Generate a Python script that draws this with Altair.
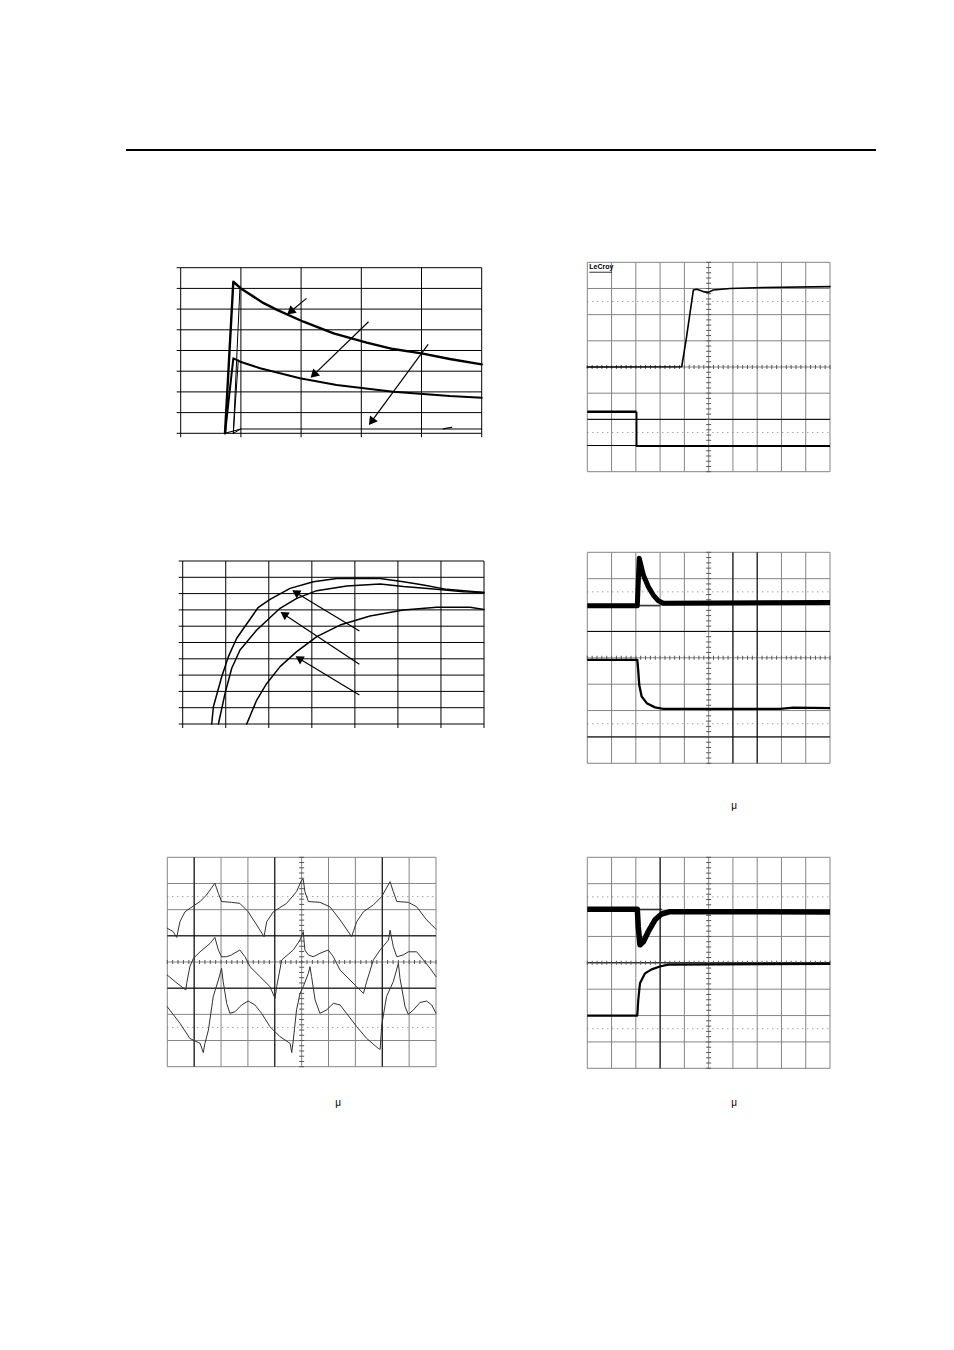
import math
import altair as alt
import pandas as pd

# ================= DATA (in grid-division units) =================
# Panel 1 (top-left line chart): x 0..5, y 0..8
P1_A_X = [0.736, 0.874, 1.0, 1.37, 1.6, 2.04, 2.54, 3.09, 3.53, 4.0, 4.47, 5.0]
P1_A_Y = [0.0, 7.32, 7.0, 6.3, 5.96, 5.39, 4.83, 4.38, 4.07, 3.86, 3.59, 3.33]
P1_A2_X = [0.874, 0.985]
P1_A2_Y = [0.0, 7.1]
P1_B_X = [0.736, 0.874, 0.99, 1.32, 1.98, 2.59, 3.53, 4.47, 5.0]
P1_B_Y = [0.0, 3.62, 3.46, 3.14, 2.66, 2.33, 2.01, 1.80, 1.72]
P1_B2_X = [0.874, 0.957]
P1_B2_Y = [0.0, 3.54]
P1_C_X = [0.736, 1.0, 5.0]
P1_C_Y = [0.0, 0.21, 0.21]
P1_C2_X = [0.874, 1.0]
P1_C2_Y = [0.0, 0.21]
P1_C3_X = [4.36, 4.5]
P1_C3_Y = [0.21, 0.29]
P1_ARROW_X0 = [2.09, 3.12, 4.11]
P1_ARROW_Y0 = [6.52, 5.39, 4.30]
P1_ARROW_X1 = [1.76, 2.15, 3.12]
P1_ARROW_Y1 = [5.72, 2.66, 0.37]

# Panel 3 (middle-left line chart): x 0..7, y 0..10
P3_C1_X = [0.674, 0.713, 0.906, 1.061, 1.255, 1.758, 2.029, 2.494, 3.036, 3.579, 4.586, 5.128, 5.593, 6.135, 7.0]
P3_C1_Y = [0.0, 1.06, 2.90, 4.13, 5.26, 7.16, 7.65, 8.32, 8.73, 8.92, 8.92, 8.73, 8.53, 8.26, 8.06]
P3_C2_X = [0.829, 0.984, 1.139, 1.332, 1.720, 2.262, 2.649, 3.114, 3.811, 4.586, 5.128, 5.902, 6.522, 7.0]
P3_C2_Y = [0.0, 1.88, 3.42, 4.54, 5.77, 7.10, 7.71, 8.18, 8.47, 8.59, 8.43, 8.26, 8.12, 8.06]
P3_C3_X = [1.487, 1.720, 1.952, 2.262, 2.649, 3.114, 3.656, 4.353, 5.128, 5.902, 6.677, 7.0]
P3_C3_Y = [0.0, 1.47, 2.49, 3.52, 4.44, 5.36, 6.07, 6.63, 6.99, 7.16, 7.16, 7.03]
P3_ARROW_X0 = [4.105, 4.105, 4.105]
P3_ARROW_Y0 = [5.71, 3.66, 1.78]
P3_ARROW_X1 = [2.533, 2.262, 2.610]
P3_ARROW_Y1 = [8.22, 6.89, 4.17]

# Panel 2 (top-right scope): x 0..10, y 0..8
P2_T1_X = [0, 3.89, 4.07, 4.23, 4.37, 4.51, 4.78, 4.99, 5.19, 5.88, 7.25, 10]
P2_T1_Y = [4.0, 4.01, 5.03, 6.05, 6.94, 6.97, 6.88, 6.85, 6.94, 7.0, 7.04, 7.07]
P2_T2A_X = [0, 2.03]
P2_T2A_Y = [2.29, 2.29]
P2_T2B_X = [2.03, 2.03, 10]
P2_T2B_Y = [2.29, 0.98, 0.98]

# Panel 4 (middle-right scope)
P4_T1_X = [0, 2.06, 2.14, 2.31, 2.51, 2.72, 2.93, 3.13, 10]
P4_T1_Y = [5.97, 5.97, 7.77, 7.14, 6.70, 6.38, 6.16, 6.07, 6.1]
P4_T1B_X = [2.06, 3.0]
P4_T1B_Y = [5.97, 5.97]
P4_T2_X = [0, 2.06, 2.10, 2.14, 2.24, 2.45, 2.79, 3.13, 7.94, 8.49, 10]
P4_T2_Y = [3.92, 3.92, 3.5, 2.97, 2.53, 2.28, 2.12, 2.06, 2.06, 2.11, 2.09]

# Panel 6 (bottom-right scope)
P6_T1_X = [0, 2.06, 2.10, 2.17, 2.31, 2.51, 2.79, 3.06, 3.41, 10]
P6_T1_Y = [6.03, 6.03, 5.37, 4.68, 4.80, 5.18, 5.63, 5.85, 5.94, 5.93]
P6_T1B_X = [2.06, 3.06]
P6_T1B_Y = [6.03, 6.03]
P6_T2_X = [0, 2.06, 2.10, 2.17, 2.38, 2.65, 2.99, 3.34, 10]
P6_T2_Y = [2.0, 2.0, 2.59, 3.22, 3.60, 3.75, 3.86, 3.93, 3.96]

# Panel 5 (bottom-left scope, three waveforms)
P5_T1_X = [0, 0.22, 0.35, 0.47, 0.66, 0.97, 1.22, 1.46, 1.77, 1.90, 2.02, 2.39, 2.70, 3.01, 3.33, 3.60, 3.70, 3.95,
           4.44, 4.81, 5.0, 5.06, 5.12, 5.25, 5.68, 6.05, 6.43, 6.86, 7.05, 7.30, 7.67, 7.98, 8.29, 8.41, 8.54, 8.97,
           9.28, 9.65, 10]
P5_T1_Y = [5.29, 5.16, 4.94, 5.54, 5.92, 6.14, 6.31, 6.56, 7.01, 6.62, 6.31, 6.28, 6.24, 5.92, 5.41, 4.97, 5.54, 5.92,
           6.24, 6.69, 7.13, 7.16, 6.69, 6.31, 6.28, 6.11, 5.61, 4.97, 5.54, 5.92, 6.18, 6.50, 7.07, 6.69, 6.31, 6.28,
           6.11, 5.61, 5.25]
P5_T2_X = [0, 0.29, 0.69, 0.72, 0.84, 0.97, 1.22, 1.59, 1.77, 1.90, 2.02, 2.21, 2.39, 2.70, 2.89, 3.08, 3.45, 3.82,
           4.01, 4.07, 4.26, 4.69, 4.94, 5.06, 5.12, 5.25, 5.43, 5.68, 5.99, 6.18, 6.43, 6.80, 7.05, 7.30, 7.42, 7.67,
           7.92, 8.23, 8.29, 8.41, 8.54, 8.78, 8.97, 9.28, 9.53, 9.78, 10]
P5_T2_Y = [3.50, 3.25, 2.93, 3.18, 3.82, 4.14, 4.39, 4.71, 4.94, 4.46, 4.20, 4.20, 4.27, 4.46, 4.20, 3.82, 3.44, 3.06,
           2.61, 3.06, 4.08, 4.46, 4.84, 5.16, 4.46, 4.27, 4.20, 4.33, 4.46, 4.20, 3.69, 3.31, 3.06, 2.80, 3.25, 4.08,
           4.46, 4.84, 5.22, 4.59, 4.20, 4.27, 4.39, 4.39, 4.08, 3.76, 3.44]
P5_T3_X = [0, 0.47, 0.84, 1.22, 1.34, 1.40, 1.53, 1.71, 1.90, 2.02, 2.08, 2.21, 2.33, 2.52, 2.77, 3.01, 3.26, 3.51,
           3.82, 4.19, 4.57, 4.63, 4.69, 4.81, 4.94, 5.06, 5.25, 5.31, 5.37, 5.50, 5.68, 5.93, 6.18, 6.43, 6.67, 7.05,
           7.42, 7.85, 7.92, 7.98, 8.16, 8.41, 8.60, 8.66, 8.85, 8.97, 9.16, 9.40, 9.65, 9.84, 10]
P5_T3_Y = [2.29, 1.66, 1.08, 0.89, 0.54, 0.89, 1.40, 2.68, 3.31, 3.76, 3.25, 2.42, 2.04, 2.10, 2.36, 2.51, 2.36, 2.04,
           1.53, 1.15, 0.89, 0.54, 1.02, 2.17, 2.80, 3.06, 3.57, 3.82, 3.44, 2.55, 2.04, 2.17, 2.42, 2.36, 2.04, 1.53,
           1.08, 0.70, 0.66, 1.59, 2.68, 3.25, 3.95, 3.38, 2.29, 2.00, 2.17, 2.45, 2.51, 2.36, 2.04]

# Labels
LECROY = "LeCroy"
MU = "μ"

# ================= STYLE / LAYOUT =================
GRAY = "#858585"
BLACK = "#000000"
TRACE5 = "#333333"

# panel placement in chart pixels (x range, y range for domain min -> max)
P1_POS = dict(xdom=[0, 5], ydom=[0, 8], xr=[172.7, 473.7], yr=[425.3, 259.7])
P3_POS = dict(xdom=[0, 7], ydom=[0, 10], xr=[174.7, 476.0], yr=[716.0, 553.0])
P2_POS = dict(xdom=[0, 10], ydom=[0, 8], xr=[579.3, 822.0], yr=[463.7, 254.3])
P4_POS = dict(xdom=[0, 10], ydom=[0, 8], xr=[579.3, 822.0], yr=[755.3, 544.3])
P5_POS = dict(xdom=[0, 10], ydom=[0, 8], xr=[159.3, 428.0], yr=[1058.7, 849.3])
P6_POS = dict(xdom=[0, 10], ydom=[0, 8], xr=[579.3, 822.0], yr=[1060.3, 849.3])


class Panel:
    def __init__(self, xdom, ydom, xr, yr):
        self.xdom, self.ydom = xdom, ydom
        self.xs = alt.Scale(domain=xdom, range=xr, nice=False, zero=False)
        self.ys = alt.Scale(domain=ydom, range=yr, nice=False, zero=False)
        self.pxx = (xr[1] - xr[0]) / (xdom[1] - xdom[0])
        self.pxy = (yr[0] - yr[1]) / (ydom[1] - ydom[0])
        self.layers = []

    def X(self, f="x"):
        return alt.X(f"{f}:Q", scale=self.xs, axis=None)

    def Y(self, f="y"):
        return alt.Y(f"{f}:Q", scale=self.ys, axis=None)

    def vrules(self, vals, color, width=1.0, y0=None, y1=None, dash=None):
        y0 = self.ydom[0] if y0 is None else y0
        y1 = self.ydom[1] if y1 is None else y1
        d = pd.DataFrame({"x": vals, "y": [y0] * len(vals), "y2": [y1] * len(vals)})
        kw = dict(color=color, strokeWidth=width)
        if dash:
            kw["strokeDash"] = dash
        self.layers.append(alt.Chart(d).mark_rule(**kw).encode(x=self.X(), y=self.Y(), y2="y2:Q"))

    def hrules(self, vals, color, width=1.0, x0=None, x1=None, dash=None):
        x0 = self.xdom[0] if x0 is None else x0
        x1 = self.xdom[1] if x1 is None else x1
        d = pd.DataFrame({"y": vals, "x": [x0] * len(vals), "x2": [x1] * len(vals)})
        kw = dict(color=color, strokeWidth=width)
        if dash:
            kw["strokeDash"] = dash
        self.layers.append(alt.Chart(d).mark_rule(**kw).encode(x=self.X(), x2="x2:Q", y=self.Y()))

    def path(self, xv, yv, color, width, cap="round"):
        d = pd.DataFrame({"x": xv, "y": yv, "i": list(range(len(xv)))})
        self.layers.append(
            alt.Chart(d).mark_line(color=color, strokeWidth=width, strokeJoin="round", strokeCap=cap)
            .encode(x=self.X(), y=self.Y(), order=alt.Order("i:Q"))
        )

    def ticks(self, xv, yv, orient, size, color, xoff=0, yoff=0):
        d = pd.DataFrame({"x": xv, "y": yv})
        self.layers.append(
            alt.Chart(d).mark_tick(orient=orient, size=size, thickness=1, color=color, opacity=1,
                                   xOffset=xoff, yOffset=yoff)
            .encode(x=self.X(), y=self.Y())
        )

    def arrows(self, x0, y0, x1, y1, head=70):
        rows, heads = [], []
        r = math.sqrt(head) / 2.0
        for k in range(len(x0)):
            rows.append({"x": x0[k], "y": y0[k], "g": k, "i": 0})
            dxp = (x1[k] - x0[k]) * self.pxx
            dyp = -(y1[k] - y0[k]) * self.pxy
            L = math.hypot(dxp, dyp)
            ux, uy = dxp / L, dyp / L
            ang = math.degrees(math.atan2(ux, -uy)) % 360
            cx = x1[k] - ux * r / self.pxx
            cy = y1[k] + uy * r / self.pxy
            rows.append({"x": cx, "y": cy, "g": k, "i": 1})
            heads.append({"x": cx, "y": cy, "a": ang})
        self.layers.append(
            alt.Chart(pd.DataFrame(rows)).mark_line(color=BLACK, strokeWidth=1.2)
            .encode(x=self.X(), y=self.Y(), detail="g:N", order=alt.Order("i:Q"))
        )
        self.layers.append(
            alt.Chart(pd.DataFrame(heads)).mark_point(shape="triangle-up", filled=True, size=head,
                                                       color=BLACK, opacity=1, strokeWidth=0)
            .encode(x=self.X(), y=self.Y(), angle=alt.Angle("a:Q", scale=None))
        )

    def text(self, x, y, t, size, weight="normal", align="left"):
        d = pd.DataFrame({"x": [x], "y": [y], "t": [t]})
        self.layers.append(
            alt.Chart(d).mark_text(fontSize=size, fontWeight=weight, align=align, baseline="middle",
                                   font="Liberation Sans", color=BLACK)
            .encode(x=self.X(), y=self.Y(), text="t:N")
        )

    def chart(self):
        return alt.layer(*self.layers)


def excel_frame(p, nx, ny):
    p.vrules(list(range(nx + 1)), BLACK, 1.0)
    p.hrules(list(range(ny + 1)), BLACK, 1.0)
    p.ticks([0] * (ny + 1), list(range(ny + 1)), "horizontal", 4, BLACK, xoff=-2)
    p.ticks(list(range(nx + 1)), [0] * (nx + 1), "vertical", 4, BLACK, yoff=2)


def scope_frame(p, black_v, black_h, cx=5, cy=4):
    p.vrules(list(range(11)), GRAY, 1.0)
    p.hrules(list(range(9)), GRAY, 1.0)
    p.hrules([6.5, 1.5], "#7a7a7a", 1.0, dash=[1, 4])
    if black_v:
        p.vrules(black_v, BLACK, 1.0)
    if black_h:
        p.hrules(black_h, BLACK, 1.0)
    ty = [k * 0.2 for k in range(41)]
    p.ticks([cx] * len(ty), ty, "horizontal", 5, "#555555")
    tx = [k * 0.2 for k in range(51)]
    p.ticks(tx, [cy] * len(tx), "vertical", 4, "#555555")


# ---- Panel 1
p1 = Panel(**P1_POS)
excel_frame(p1, 5, 8)
p1.path(P1_C_X, P1_C_Y, BLACK, 1.1)
p1.path(P1_C2_X, P1_C2_Y, BLACK, 1.0)
p1.path(P1_C3_X, P1_C3_Y, BLACK, 1.2)
p1.path(P1_B2_X, P1_B2_Y, BLACK, 1.0)
p1.path(P1_B_X, P1_B_Y, BLACK, 2.0)
p1.path(P1_A2_X, P1_A2_Y, BLACK, 1.0)
p1.path(P1_A_X, P1_A_Y, BLACK, 2.4)
p1.arrows(P1_ARROW_X0, P1_ARROW_Y0, P1_ARROW_X1, P1_ARROW_Y1, head=95)

# ---- Panel 3
p3 = Panel(**P3_POS)
excel_frame(p3, 7, 10)
p3.path(P3_C1_X, P3_C1_Y, BLACK, 1.5)
p3.path(P3_C2_X, P3_C2_Y, BLACK, 1.5)
p3.path(P3_C3_X, P3_C3_Y, BLACK, 1.5)
p3.arrows(P3_ARROW_X0, P3_ARROW_Y0, P3_ARROW_X1, P3_ARROW_Y1, head=85)

# ---- Panel 2
p2 = Panel(**P2_POS)
scope_frame(p2, [], [2, 1])
p2.path(P2_T1_X, P2_T1_Y, BLACK, 1.6)
p2.path(P2_T2A_X, P2_T2A_Y, BLACK, 2.6, cap="butt")
p2.path(P2_T2B_X, P2_T2B_Y, BLACK, 1.8, cap="butt")
p2.text(0.08, 7.82, LECROY, 7, weight="bold")
p2.hrules([7.62], BLACK, 0.8, x0=0.08, x1=1.02)

# ---- Panel 4
p4 = Panel(**P4_POS)
scope_frame(p4, [6, 7], [5, 1])
p4.path(P4_T1B_X, P4_T1B_Y, BLACK, 1.0)
p4.path(P4_T1_X, P4_T1_Y, BLACK, 5.0, cap="butt")
p4.path(P4_T2_X, P4_T2_Y, BLACK, 2.3, cap="butt")

# ---- Panel 5
p5 = Panel(**P5_POS)
scope_frame(p5, [1, 4, 8], [5, 3])
p5.path(P5_T1_X, P5_T1_Y, TRACE5, 1.0)
p5.path(P5_T2_X, P5_T2_Y, TRACE5, 1.0)
p5.path(P5_T3_X, P5_T3_Y, TRACE5, 1.0)

# ---- Panel 6
p6 = Panel(**P6_POS)
scope_frame(p6, [3], [4])
p6.path(P6_T1B_X, P6_T1B_Y, BLACK, 1.0)
p6.path(P6_T1_X, P6_T1_Y, BLACK, 5.5, cap="butt")
p6.path(P6_T2_X, P6_T2_Y, BLACK, 2.2, cap="butt")

# ---- page decorations (header rule and the stray micro signs)
header = alt.Chart(pd.DataFrame({"a": [0]})).mark_rule(color=BLACK, strokeWidth=2).encode(
    x=alt.value(118), x2=alt.value(868), y=alt.value(142))
mu_df = pd.DataFrame({"t": [MU]})
mus = [
    alt.Chart(mu_df).mark_text(fontSize=10, font="Liberation Sans", color=BLACK).encode(
        x=alt.value(px), y=alt.value(py), text="t:N")
    for px, py in [(726, 798), (330, 1095), (726, 1095)]
]

chart = alt.layer(
    p1.chart(), p3.chart(), p2.chart(), p4.chart(), p5.chart(), p6.chart(), header, *mus
).resolve_scale(x="independent", y="independent").properties(
    width=930, height=1200, padding=0, autosize=alt.AutoSizeParams(type="none")
).configure_view(strokeWidth=0)

chart.save("out.html", embed_options={"renderer": "svg", "actions": False})
